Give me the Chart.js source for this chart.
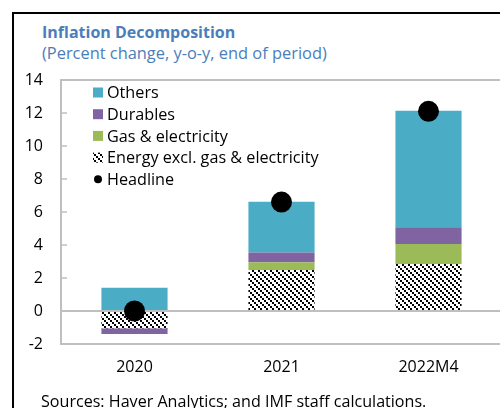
<!DOCTYPE html>
<html><head><meta charset="utf-8">
<script src="https://cdn.jsdelivr.net/npm/chart.js@4.4.0/dist/chart.umd.min.js"></script>
<style>
html,body{margin:0;padding:0;width:500px;height:408px;overflow:hidden;background:#fff;}
#frame{position:absolute;left:12px;top:12px;width:600px;height:500px;border-left:2px solid #000;border-top:2px solid #000;box-sizing:border-box;}
.t{position:absolute;left:42px;white-space:nowrap;font-family:"Open Sans",sans-serif;}
#title{top:21px;font-size:16px;font-weight:bold;color:#4A7EBB;}
#sub{top:41px;font-size:16.4px;color:#4A7EBB;}
#src{top:390px;left:41px;font-size:16.1px;color:#000;}
#wrap{position:absolute;left:0;top:0;width:503px;height:408px;}
</style></head><body>
<div id="frame"></div>
<div id="title" class="t">Inflation Decomposition</div>
<div id="sub" class="t">(Percent change, y-o-y, end of period)</div>
<div id="wrap"><canvas id="c" width="503" height="408"></canvas></div>
<div id="src" class="t">Sources: Haver Analytics; and IMF staff calculations.</div>
<script>
const categories = ['2020', '2021', '2022M4'];
const energyExcl = [-1.05, 2.48, 2.85];
const gasElec = [0, 0.47, 1.21];
const durables = [-0.35, 0.6, 1.01];
const others = [1.41, 3.07, 7.07];
const headline = [0.0, 6.6, 12.1];
const yTicks = [-2, 0, 2, 4, 6, 8, 10, 12, 14];
const legendOrder = ['Others', 'Durables', 'Gas & electricity', 'Energy excl. gas & electricity', 'Headline'];

const FONT = '"Open Sans", sans-serif';
const GRID = '#BFBFBF';

function makeHatch() {
  const s = 6;
  const c = document.createElement('canvas');
  c.width = s; c.height = s;
  const g = c.getContext('2d');
  g.fillStyle = '#fff'; g.fillRect(0, 0, s, s);
  g.fillStyle = '#000';
  for (let k = 0; k < s; k += 2) g.fillRect(k, k, 2, 2);
  return g.createPattern(c, 'repeat');
}
const hatch = makeHatch();

const insideTicks = {
  id: 'insideTicks',
  afterDatasetsDraw(chart) {
    const y = chart.scales.y, ctx = chart.ctx, left = chart.chartArea.left;
    ctx.save();
    ctx.strokeStyle = GRID; ctx.lineWidth = 1.5;
    yTicks.forEach(v => {
      const py = y.getPixelForValue(v);
      ctx.beginPath(); ctx.moveTo(left, py); ctx.lineTo(left + 6, py); ctx.stroke();
    });
    ctx.restore();
  },
  afterDraw(chart) {
    const ctx = chart.ctx;
    ctx.save();
    ctx.font = '16.2px ' + FONT;
    ctx.textBaseline = 'middle';
    ctx.fillStyle = '#000';
    const x0 = 93, y0 = 92.5, dy = 21.7;
    legendOrder.forEach((name, i) => {
      const ds = chart.data.datasets.find(d => d.label === name);
      const cy = y0 + i * dy;
      if (ds.type === 'line') {
        ctx.fillStyle = '#000';
        ctx.beginPath(); ctx.arc(x0 + 5, cy, 4, 0, Math.PI * 2); ctx.fill();
      } else {
        ctx.fillStyle = ds.backgroundColor;
        ctx.fillRect(x0, cy - 5, 10, 10);
      }
      ctx.fillStyle = '#000';
      ctx.fillText(name, x0 + 14, cy + 1);
    });
    ctx.restore();
  }
};

new Chart(document.getElementById('c'), {
  type: 'bar',
  data: {
    labels: categories,
    datasets: [
      { label: 'Headline', type: 'line', data: headline, stack: 'h', showLine: false,
        pointRadius: 10.5, pointBackgroundColor: '#000', pointBorderColor: '#000', pointBorderWidth: 0, order: 0 },
      { label: 'Energy excl. gas & electricity', data: energyExcl, backgroundColor: hatch, stack: 's', order: 1 },
      { label: 'Gas & electricity', data: gasElec, backgroundColor: '#9BBB59', stack: 's', order: 1 },
      { label: 'Durables', data: durables, backgroundColor: '#8064A2', stack: 's', order: 1 },
      { label: 'Others', data: others, backgroundColor: '#4BACC6', stack: 's', order: 1 }
    ]
  },
  options: {
    responsive: false,
    animation: false,
    layout: { autoPadding: false, padding: { left: 0, right: 1, top: 80, bottom: 0 } },
    datasets: { bar: { categoryPercentage: 1, barPercentage: 0.45, borderWidth: 0 } },
    plugins: { legend: { display: false }, tooltip: { enabled: false }, title: { display: false } },
    scales: {
      x: {
        stacked: true,
        grid: { display: false, drawTicks: false },
        border: { display: false },
        ticks: { color: '#000', font: { family: FONT, size: 16 }, padding: 14 },
        afterFit(s) { s.height = 64; }
      },
      y: {
        stacked: true,
        min: -2, max: 14,
        afterBuildTicks(s) { s.ticks = yTicks.map(v => ({ value: v })); },
        grid: {
          drawTicks: false,
          color: c => ([14, 0, -2].includes(c.tick.value) ? GRID : 'rgba(0,0,0,0)'),
          lineWidth: 2
        },
        border: { display: true, color: GRID, width: 2 },
        ticks: { color: '#000', font: { family: FONT, size: 16 }, padding: 18 },
        afterFit(s) { s.width = 61; }
      }
    }
  },
  plugins: [insideTicks]
});
</script>
</body></html>
